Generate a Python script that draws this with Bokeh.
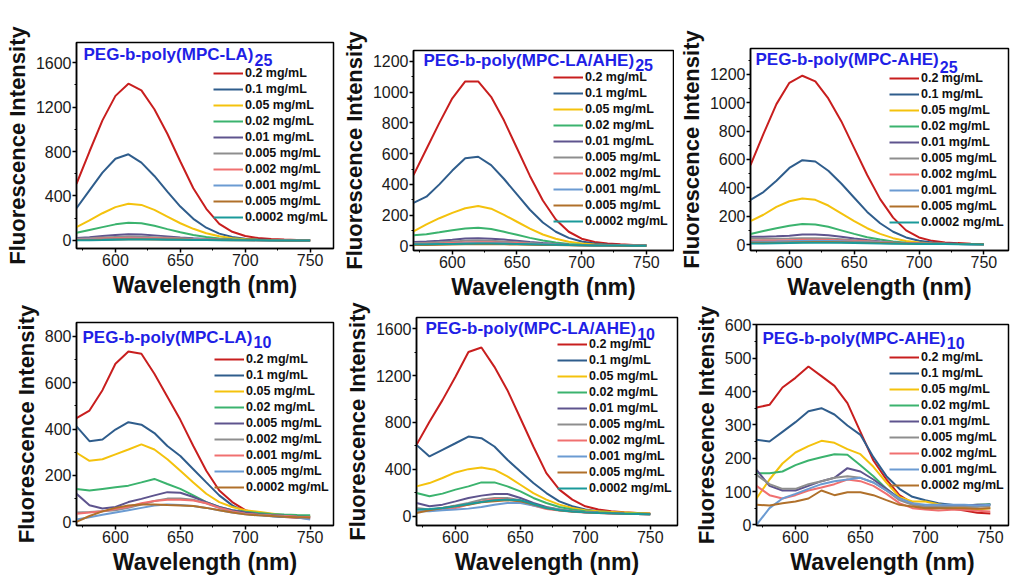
from bokeh.plotting import figure
from bokeh.models import Legend, LegendItem, Label, FixedTicker, Range1d
from bokeh.layouts import row, column
from bokeh.embed import file_html
from bokeh.resources import INLINE

# wavelength grid (nm)
WL = [570, 580, 590, 600, 610, 620, 630, 640, 650, 660, 670, 680, 690, 700, 710, 720, 730, 740, 750]

C_RED = "#C81E1E"; C_BLUE = "#2F5D8C"; C_YEL = "#F4C20D"; C_GRN = "#3BB36E"; C_PUR = "#5E548E"
C_GRY = "#8E8E8E"; C_PNK = "#F07070"; C_LBL = "#6B9BD2"; C_BRN = "#B0702A"; C_TEA = "#1A9A9A"

labels10 = ["0.2 mg/mL", "0.1 mg/mL", "0.05 mg/mL", "0.02 mg/mL", "0.01 mg/mL", "0.005 mg/mL",
            "0.002 mg/mL", "0.001 mg/mL", "0.005 mg/mL", "0.0002 mg/mL"]
colors10 = [C_RED, C_BLUE, C_YEL, C_GRN, C_PUR, C_GRY, C_PNK, C_LBL, C_BRN, C_TEA]
labels_la10 = ["0.2 mg/mL", "0.1 mg/mL", "0.05 mg/mL", "0.02 mg/mL", "0.005 mg/mL", "0.002 mg/mL",
               "0.001 mg/mL", "0.005 mg/mL", "0.0002 mg/mL"]
colors_la10 = [C_RED, C_BLUE, C_YEL, C_GRN, C_PUR, C_GRY, C_PNK, C_LBL, C_BRN]
labels_ahe10 = ["0.2 mg/mL", "0.1 mg/mL", "0.05 mg/mL", "0.02 mg/mL", "0.01 mg/mL", "0.005 mg/mL",
                "0.002 mg/mL", "0.001 mg/mL", "0.0002 mg/mL"]
colors_ahe10 = [C_RED, C_BLUE, C_YEL, C_GRN, C_PUR, C_GRY, C_PNK, C_LBL, C_BRN]

# Panel 1: PEG-b-poly(MPC-LA)25
la25_red = [510, 800, 1080, 1300, 1410, 1350, 1180, 960, 710, 470, 285, 150, 78, 40, 22, 13, 8, 5, 3]
la25_blue = [290, 450, 610, 735, 775, 700, 580, 440, 305, 195, 115, 62, 32, 16, 9, 5, 3, 2, 1]
la25_yel = [120, 180, 245, 300, 330, 320, 275, 215, 155, 105, 65, 38, 20, 11, 6, 4, 3, 2, 1]
la25_grn = [70, 95, 120, 145, 160, 155, 132, 102, 74, 50, 32, 19, 11, 6, 4, 3, 2, 1, 1]
la25_pur = [22, 30, 40, 50, 56, 53, 46, 37, 28, 20, 14, 10, 7, 5, 4, 3, 2, 2, 1]
la25_gry = [15, 20, 26, 32, 36, 34, 30, 25, 20, 15, 11, 8, 6, 4, 3, 3, 2, 2, 1]
la25_pnk = [10, 13, 17, 21, 24, 23, 21, 18, 15, 12, 9, 7, 5, 4, 3, 3, 2, 2, 1]
la25_lbl = [6, 8, 10, 13, 15, 15, 14, 12, 10, 8, 6, 5, 4, 3, 3, 2, 2, 1, 1]
la25_brn = [4, 5, 7, 9, 11, 11, 10, 9, 8, 6, 5, 4, 3, 3, 2, 2, 1, 1, 1]
la25_tea = [2, 3, 4, 6, 8, 8, 8, 7, 6, 5, 4, 3, 3, 2, 2, 1, 1, 1, 0]

# Panel 2: PEG-b-poly(MPC-LA/AHE)25
lah25_red = [460, 630, 800, 960, 1070, 1070, 970, 815, 635, 455, 295, 172, 92, 47, 25, 15, 10, 6, 4]
lah25_blue = [280, 320, 400, 490, 570, 580, 525, 435, 335, 235, 152, 92, 52, 28, 15, 9, 6, 4, 3]
lah25_yel = [95, 140, 180, 215, 245, 260, 242, 202, 157, 112, 74, 46, 27, 15, 9, 6, 4, 3, 2]
lah25_grn = [70, 75, 88, 102, 113, 118, 110, 92, 72, 52, 35, 22, 13, 8, 5, 4, 3, 2, 2]
lah25_pur = [25, 28, 33, 40, 48, 50, 47, 41, 33, 25, 18, 12, 8, 6, 4, 3, 3, 2, 2]
lah25_gry = [18, 20, 24, 28, 33, 35, 33, 29, 24, 19, 14, 10, 7, 5, 4, 3, 2, 2, 1]
lah25_pnk = [12, 14, 16, 19, 22, 24, 23, 21, 18, 14, 11, 8, 6, 4, 3, 3, 2, 2, 1]
lah25_lbl = [8, 9, 11, 13, 15, 16, 16, 15, 13, 11, 9, 7, 5, 4, 3, 2, 2, 1, 1]
lah25_brn = [5, 6, 7, 9, 10, 11, 11, 10, 9, 8, 6, 5, 4, 3, 2, 2, 1, 1, 1]
lah25_tea = [10, 11, 12, 13, 14, 15, 15, 14, 13, 11, 9, 7, 5, 4, 3, 2, 2, 1, 1]

# Panel 3: PEG-b-poly(MPC-AHE)25
ahe25_red = [560, 780, 990, 1140, 1190, 1150, 1030, 870, 680, 490, 320, 190, 100, 50, 26, 15, 10, 6, 4]
ahe25_blue = [315, 370, 450, 540, 595, 585, 520, 430, 330, 230, 150, 90, 50, 27, 15, 9, 6, 4, 3]
ahe25_yel = [165, 210, 265, 305, 325, 315, 275, 220, 165, 115, 75, 45, 25, 14, 8, 5, 4, 3, 2]
ahe25_grn = [75, 95, 115, 132, 145, 142, 125, 100, 75, 52, 35, 22, 13, 8, 5, 4, 3, 2, 2]
ahe25_pur = [55, 55, 58, 62, 70, 70, 65, 55, 43, 32, 22, 15, 10, 7, 5, 4, 3, 2, 2]
ahe25_gry = [42, 40, 40, 42, 45, 45, 42, 37, 31, 25, 19, 14, 10, 7, 5, 4, 3, 2, 2]
ahe25_pnk = [28, 28, 29, 31, 33, 34, 32, 29, 25, 21, 17, 13, 10, 8, 6, 5, 4, 3, 2]
ahe25_lbl = [20, 20, 21, 23, 25, 26, 25, 23, 20, 17, 14, 11, 8, 6, 5, 4, 3, 2, 2]
ahe25_brn = [12, 12, 13, 15, 17, 18, 18, 17, 15, 13, 11, 9, 7, 6, 5, 4, 3, 3, 2]
ahe25_tea = [8, 8, 9, 10, 12, 13, 13, 12, 11, 9, 7, 6, 5, 4, 3, 3, 2, 2, 1]

# Panel 4: PEG-b-poly(MPC-LA)10
la10_red = [447, 480, 568, 682, 735, 725, 639, 540, 440, 327, 220, 135, 85, 50, 35, 28, 21, 17, 14]
la10_blue = [412, 348, 355, 398, 430, 419, 383, 327, 284, 227, 170, 114, 71, 43, 31, 24, 21, 21, 24]
la10_yel = [298, 263, 270, 291, 312, 334, 312, 270, 220, 170, 121, 85, 64, 50, 43, 36, 28, 26, 24]
la10_grn = [142, 135, 142, 149, 156, 170, 185, 163, 142, 114, 85, 64, 50, 43, 38, 34, 31, 29, 28]
la10_pur = [121, 71, 57, 64, 85, 99, 114, 128, 125, 107, 85, 64, 50, 40, 33, 29, 26, 23, 21]
la10_gry = [40, 42, 45, 50, 60, 75, 90, 100, 100, 95, 80, 60, 45, 35, 30, 27, 25, 22, 20]
la10_pnk = [35, 40, 45, 55, 65, 80, 90, 95, 95, 92, 80, 60, 45, 35, 30, 27, 25, 22, 20]
la10_lbl = [10, 20, 30, 40, 50, 60, 70, 75, 72, 68, 60, 50, 40, 32, 28, 25, 22, 18, 10]
la10_brn = [0, 25, 45, 60, 70, 75, 75, 72, 70, 68, 60, 50, 40, 32, 28, 25, 22, 20, 18]

# Panel 5: PEG-b-poly(MPC-LA/AHE)10
lah10_red = [609, 807, 991, 1190, 1402, 1440, 1275, 1076, 836, 595, 368, 227, 142, 85, 57, 42, 34, 28, 23]
lah10_blue = [609, 510, 567, 623, 680, 666, 595, 482, 382, 283, 198, 127, 85, 57, 42, 34, 28, 23, 20]
lah10_yel = [255, 283, 326, 374, 402, 416, 397, 340, 269, 198, 142, 99, 71, 51, 42, 37, 32, 27, 23]
lah10_grn = [198, 170, 193, 227, 255, 289, 289, 255, 212, 156, 113, 79, 57, 42, 35, 30, 26, 23, 20]
lah10_pur = [113, 85, 99, 127, 156, 176, 190, 190, 156, 113, 79, 57, 42, 34, 29, 25, 22, 20, 18]
lah10_gry = [71, 57, 71, 91, 113, 142, 156, 156, 136, 99, 71, 57, 42, 34, 29, 25, 22, 20, 18]
lah10_pnk = [57, 51, 57, 71, 99, 127, 147, 147, 127, 91, 62, 48, 38, 31, 27, 24, 21, 19, 17]
lah10_lbl = [42, 42, 51, 57, 65, 79, 99, 113, 113, 91, 71, 57, 42, 34, 29, 25, 22, 20, 18]
lah10_brn = [28, 51, 71, 85, 99, 119, 127, 136, 127, 99, 71, 51, 40, 33, 28, 25, 22, 20, 18]
lah10_tea = [57, 62, 71, 85, 105, 122, 136, 142, 136, 105, 71, 51, 40, 33, 28, 25, 22, 20, 18]

# Panel 6: PEG-b-poly(MPC-AHE)10
ahe10_red = [352, 360, 412, 441, 475, 446, 417, 365, 279, 193, 136, 89, 65, 50, 52, 49, 43, 36, 34]
ahe10_blue = [255, 250, 279, 308, 341, 350, 331, 298, 270, 203, 146, 108, 84, 74, 65, 60, 55, 55, 62]
ahe10_yel = [79, 136, 184, 217, 236, 252, 246, 227, 212, 174, 127, 84, 70, 70, 62, 55, 50, 46, 50]
ahe10_grn = [155, 155, 160, 179, 193, 203, 212, 210, 179, 146, 108, 79, 62, 50, 50, 55, 58, 60, 62]
ahe10_pur = [165, 117, 103, 103, 117, 131, 141, 170, 160, 136, 108, 79, 62, 55, 55, 57, 58, 60, 60]
ahe10_gry = [150, 122, 108, 108, 122, 131, 141, 146, 141, 127, 103, 74, 60, 55, 55, 55, 55, 55, 55]
ahe10_pnk = [117, 89, 79, 89, 103, 112, 122, 136, 131, 117, 93, 65, 50, 46, 43, 45, 45, 42, 40]
ahe10_lbl = [0, 50, 79, 93, 108, 122, 131, 136, 141, 127, 103, 79, 65, 60, 60, 60, 60, 58, 60]
ahe10_brn = [60, 58, 65, 70, 79, 103, 89, 98, 98, 89, 74, 60, 55, 50, 50, 50, 50, 48, 50]

X_TICKS = [600, 650, 700, 750]
X_MINOR = [575, 625, 675, 725]

FONT = "Liberation Sans"
TITLE_COLOR = "#1F1FE6"

EM = {"PEG-b-poly(MPC-LA)": 10.0, "PEG-b-poly(MPC-LA/AHE)": 12.39, "PEG-b-poly(MPC-AHE)": 10.78}


def panel(main, sub, series_vals, labels, colors, xr, yr, yticks, yminor,
          w, h, bl, br, bt, bb, title_dx, title_dy, sub_dy, leg_dx, leg_top):
    p = figure(width=w, height=h, x_range=Range1d(*xr), y_range=Range1d(*yr),
               output_backend="svg", toolbar_location=None, frame_align=False,
               min_border_left=bl, min_border_right=br, min_border_top=bt, min_border_bottom=bb)
    p.xgrid.visible = False
    p.ygrid.visible = False
    p.background_fill_color = "white"
    p.outline_line_color = "black"
    p.outline_line_width = 1.5
    p.outline_line_alpha = 1.0
    p.xaxis.ticker = FixedTicker(ticks=X_TICKS, minor_ticks=X_MINOR)
    p.yaxis.ticker = FixedTicker(ticks=yticks, minor_ticks=yminor)
    p.xaxis.axis_label = "Wavelength (nm)"
    p.yaxis.axis_label = "Fluorescence Intensity"
    for ax in (p.xaxis[0], p.yaxis[0]):
        ax.axis_line_width = 1.5
        ax.axis_line_color = "black"
        ax.major_tick_line_width = 1.5
        ax.major_tick_line_color = "black"
        ax.minor_tick_line_color = "black"
        ax.minor_tick_line_width = 1
        ax.major_tick_out = 4
        ax.major_tick_in = 0
        ax.minor_tick_out = 2
        ax.minor_tick_in = 0
        ax.major_label_text_font = FONT
        ax.major_label_text_font_size = "16px"
        ax.major_label_text_color = "#1a1a1a"
        ax.major_label_standoff = 1
        ax.axis_label_text_font = FONT
        ax.axis_label_text_font_style = "bold"
        ax.axis_label_text_color = "#111111"
        ax.axis_label_standoff = 3
    p.xaxis[0].axis_label_text_font_size = "23px"
    p.yaxis[0].axis_label_text_font_size = "22px"
    items = []
    for lab, col, vals in zip(labels, colors, series_vals):
        r = p.line(WL, vals, line_color=col, line_width=2)
        items.append(LegendItem(label=lab, renderers=[r]))
    frame_h = h - bt - bb
    n = len(items)
    item_h = 14
    spacing = 2
    leg_h = n * item_h + (n - 1) * spacing
    y0 = frame_h - (leg_top - item_h / 2) - leg_h
    leg = Legend(items=items, location=(leg_dx, y0), margin=0, padding=0, spacing=spacing,
                 label_height=item_h, glyph_height=item_h, glyph_width=30, label_standoff=2,
                 label_text_font=FONT, label_text_font_style="bold", label_text_font_size="12.5px",
                 label_text_color="#111111",
                 border_line_alpha=0, background_fill_alpha=0)
    p.add_layout(leg, "center")
    p.add_layout(Label(x=title_dx, y=frame_h - title_dy, x_units="screen", y_units="screen",
                       text=main, text_font=FONT, text_font_style="bold", text_font_size="17px",
                       text_color=TITLE_COLOR, text_baseline="alphabetic"))
    p.add_layout(Label(x=title_dx + EM[main] * 17 + 1, y=frame_h - sub_dy, x_units="screen", y_units="screen",
                       text=sub, text_font=FONT, text_font_style="bold", text_font_size="16px",
                       text_color=TITLE_COLOR, text_baseline="alphabetic"))
    return p


p1 = panel("PEG-b-poly(MPC-LA)", "25",
           [la25_red, la25_blue, la25_yel, la25_grn, la25_pur, la25_gry, la25_pnk, la25_lbl, la25_brn, la25_tea],
           labels10, colors10, (570, 768), (-72, 1780), [0, 400, 800, 1200, 1600], [200, 600, 1000, 1400],
           337, 302, 76, 4, 42, 54, 7, 12, 17, 137, 31)
p2 = panel("PEG-b-poly(MPC-LA/AHE)", "25",
           [lah25_red, lah25_blue, lah25_yel, lah25_grn, lah25_pur, lah25_gry, lah25_pnk, lah25_lbl, lah25_brn, lah25_tea],
           labels10, colors10, (570, 771), (-30, 1271), [0, 200, 400, 600, 800, 1000, 1200],
           [100, 300, 500, 700, 900, 1100], 337, 302, 76, 1, 50, 50, 10, 12, 16, 140, 29)
p3 = panel("PEG-b-poly(MPC-AHE)", "25",
           [ahe25_red, ahe25_blue, ahe25_yel, ahe25_grn, ahe25_pur, ahe25_gry, ahe25_pnk, ahe25_lbl, ahe25_brn, ahe25_tea],
           labels10, colors10, (570, 769), (-42, 1382), [0, 200, 400, 600, 800, 1000, 1200],
           [100, 300, 500, 700, 900, 1100, 1300], 338, 302, 76, 4, 48, 50, 5, 13, 20, 139, 32)
p4 = panel("PEG-b-poly(MPC-LA)", "10",
           [la10_red, la10_blue, la10_yel, la10_grn, la10_pur, la10_gry, la10_pnk, la10_lbl, la10_brn],
           labels_la10, colors_la10, (570, 768), (-16, 860), [0, 200, 400, 600, 800], [100, 300, 500, 700],
           340, 275, 76, 7, 20, 50, 6, 17, 21, 138, 39)
p5 = panel("PEG-b-poly(MPC-LA/AHE)", "10",
           [lah10_red, lah10_blue, lah10_yel, lah10_grn, lah10_pur, lah10_gry, lah10_pnk, lah10_lbl, lah10_brn, lah10_tea],
           labels10, colors10, (570, 771), (-79, 1696), [0, 400, 800, 1200, 1600], [200, 600, 1000, 1400],
           340, 275, 76, 3, 15, 51, 9, 12, 17, 141, 28)
p6 = panel("PEG-b-poly(MPC-AHE)", "10",
           [ahe10_red, ahe10_blue, ahe10_yel, ahe10_grn, ahe10_pur, ahe10_gry, ahe10_pnk, ahe10_lbl, ahe10_brn],
           labels_ahe10, colors_ahe10, (570, 764), (-2, 601), [0, 100, 200, 300, 400, 500, 600],
           [50, 150, 250, 350, 450, 550], 332, 275, 76, 4, 22, 51, 6, 15, 19, 133, 34)

layout = column(row(p1, p2, p3, spacing=0), row(p4, p5, p6, spacing=0), spacing=0)

open("out.html", "w").write(file_html(layout, INLINE))
